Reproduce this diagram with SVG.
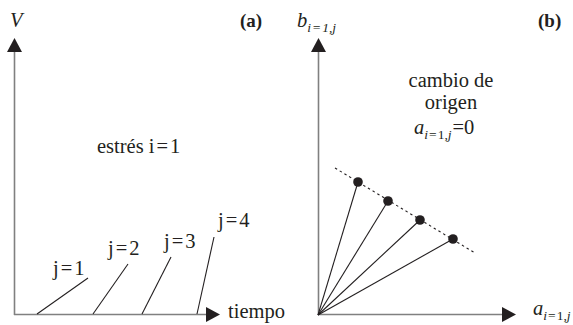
<svg xmlns="http://www.w3.org/2000/svg" width="573" height="325" viewBox="0 0 573 325">
<style>
text { fill: #231f20; font-family: "Liberation Serif", "DejaVu Serif", "Noto Serif", "Times New Roman", serif; }
.lbl { font-size: 20.5px; }
.it { font-style: italic; }
.sub { font-size: 13.5px; }
.bold { font-weight: bold; font-size: 19px; }
.axis { stroke: #808080; stroke-width: 1.6; fill: none; }
.ln { stroke: #231f20; stroke-width: 1.1; fill: none; }
.head { fill: #231f20; }
</style>
<rect width="573" height="325" fill="#ffffff"/>
<g id="panel-a">
  <g id="axis-a">
    <line class="axis" x1="14.5" y1="315" x2="14.5" y2="50"/>
    <polygon class="head" points="14.5,38 7,52 22,52"/>
    <line class="axis" x1="14" y1="314.5" x2="208" y2="314.5"/>
    <polygon class="head" points="220,314.5 206,307 206,322"/>
  </g>
  <text class="lbl it" x="10" y="27">V</text>
  <text class="bold" x="240" y="27">(a)</text>
  <text class="lbl" x="97" y="153">estrés i<tspan dx="2">=</tspan><tspan dx="2">1</tspan></text>
  <g id="connectors-a">
    <line class="ln" x1="37" y1="314" x2="88" y2="278"/>
    <line class="ln" x1="93" y1="314" x2="128" y2="264"/>
    <line class="ln" x1="142" y1="314" x2="171" y2="257"/>
    <line class="ln" x1="197" y1="314" x2="214" y2="237"/>
  </g>
  <text class="lbl" x="53" y="275">j<tspan dx="2">=</tspan><tspan dx="2">1</tspan></text>
  <text class="lbl" x="108" y="255">j<tspan dx="2">=</tspan><tspan dx="2">2</tspan></text>
  <text class="lbl" x="164" y="248">j<tspan dx="2">=</tspan><tspan dx="2">3</tspan></text>
  <text class="lbl" x="218" y="227">j<tspan dx="2">=</tspan><tspan dx="2">4</tspan></text>
  <text class="lbl" x="228" y="318">tiempo</text>
</g>
<g id="panel-b">
  <g id="axis-b">
    <line class="axis" x1="318.5" y1="315" x2="318.5" y2="50"/>
    <polygon class="head" points="318.5,38 311,52 326,52"/>
    <line class="axis" x1="318" y1="314.5" x2="505" y2="314.5"/>
    <polygon class="head" points="516,314.5 502,307 502,322"/>
  </g>
  <text class="lbl it" x="297" y="27">b<tspan class="sub" dy="5">i</tspan><tspan class="sub" dx="1">=</tspan><tspan class="sub" dx="1">1</tspan><tspan class="sub">,</tspan><tspan class="sub">j</tspan></text>
  <text class="bold" x="538" y="27">(b)</text>
  <text class="lbl" x="451" y="87" text-anchor="middle">cambio de</text>
  <text class="lbl" x="451" y="109" text-anchor="middle">origen</text>
  <text class="lbl" x="414" y="134"><tspan class="it">a</tspan><tspan class="sub it" dy="5">i</tspan><tspan class="sub" dx="1">=</tspan><tspan class="sub" dx="1">1</tspan><tspan class="sub">,</tspan><tspan class="sub it">j</tspan><tspan dy="-5" dx="1">=</tspan><tspan>0</tspan></text>
  <text class="lbl" x="533" y="315"><tspan class="it">a</tspan><tspan class="sub it" dy="5">i</tspan><tspan class="sub" dx="1">=</tspan><tspan class="sub" dx="1">1</tspan><tspan class="sub">,</tspan><tspan class="sub it">j</tspan></text>
  <g id="connectors-b">
    <line class="ln" x1="335" y1="168" x2="475" y2="253" stroke-dasharray="2.5,3"/>
    <line class="ln" x1="318" y1="315" x2="358" y2="182"/>
    <line class="ln" x1="318" y1="315" x2="388" y2="201"/>
    <line class="ln" x1="318" y1="315" x2="420" y2="220"/>
    <line class="ln" x1="318" y1="315" x2="453" y2="239"/>
  </g>
  <g id="points">
    <circle cx="358" cy="182" r="4.8" fill="#231f20"/>
    <circle cx="388" cy="201" r="4.8" fill="#231f20"/>
    <circle cx="420" cy="220" r="4.8" fill="#231f20"/>
    <circle cx="453" cy="239" r="4.8" fill="#231f20"/>
  </g>
</g>
</svg>
